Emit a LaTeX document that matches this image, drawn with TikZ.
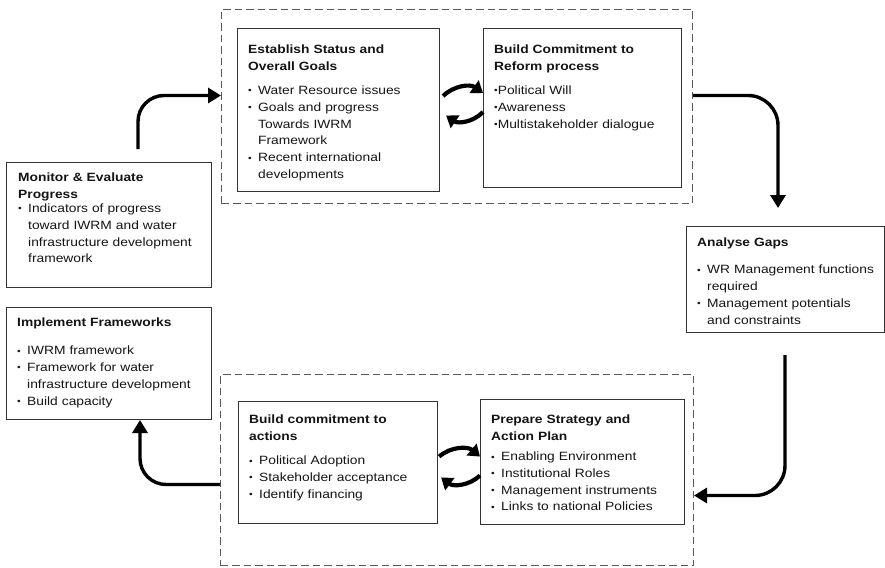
\documentclass[tikz,border=0pt]{standalone}
\usepackage{fontspec}
\setmainfont{Liberation Sans}[FakeStretch=1.15]
\usetikzlibrary{arrows.meta}

% bullet line and its indented continuation lines
\newcommand\bul[1]{\par\noindent
  \makebox[10pt][l]{\raisebox{0.5pt}{\fontsize{9}{9}\selectfont\textbullet}}#1\par}
\newcommand\cont[1]{\par\noindent\hspace*{10pt}#1\par}
% tight bullet (no gap)
\newcommand\tbul[1]{\par\noindent{\fontsize{9}{9}\selectfont\raisebox{0.5pt}{\textbullet}}#1\par}

\tikzset{
  box/.style={draw=black!80, line width=1.1pt, inner sep=0pt, anchor=north west},
  txt/.style={anchor=north west, inner sep=0pt, align=left, text width=#1,
              font=\fontsize{12}{16.8}\selectfont, text=black!92},
  group/.style={draw=black!65, line width=1pt, dash pattern=on 7.5pt off 4pt,
                inner sep=0pt, anchor=north west},
  flow/.style={line width=3.4pt, draw=black, -{Triangle[length=13pt,width=15pt]}},
  swap/.style={line width=4.2pt, draw=black, -{Triangle[length=11pt,width=15pt]}},
}

\begin{document}
\begin{tikzpicture}[x=1pt,y=-1pt]
\useasboundingbox (0,0) rectangle (885,567);

% dashed groups
\node[group, minimum width=471pt, minimum height=194pt] (topgrp) at (221,9) {};
\node[group, minimum width=473pt, minimum height=191pt] (botgrp) at (220,374) {};

% boxes
\node[box, minimum width=202pt, minimum height=163pt] (estab) at (237,28) {};
\node[box, minimum width=198pt, minimum height=159pt] (commit) at (483,28) {};
\node[box, minimum width=205pt, minimum height=125pt] (monitor) at (6,162) {};
\node[box, minimum width=205pt, minimum height=112pt] (impl) at (6,307) {};
\node[box, minimum width=198pt, minimum height=106pt] (gaps) at (686,226) {};
\node[box, minimum width=199pt, minimum height=122pt] (actions) at (238,401) {};
\node[box, minimum width=204pt, minimum height=125pt] (strategy) at (480,399) {};

% box texts
\node[txt=195pt] (estabT) at (248,44.5) {\textbf{Establish Status and\\Overall Goals}\par\vspace{7.5pt}
  \bul{Water Resource issues}
  \bul{Goals and progress}
  \cont{Towards IWRM}
  \cont{Framework}
  \bul{Recent international}
  \cont{developments}};

\node[txt=190pt] (commitT) at (494,44.5) {\textbf{Build Commitment to\\Reform process}\par\vspace{7.5pt}
  \tbul{Political Will}
  \tbul{Awareness}
  \tbul{Multistakeholder dialogue}};

\node[txt=200pt] (monitorT) at (18,172.5) {\textbf{Monitor \& Evaluate\\Progress}\par\vspace{-2.5pt}
  \bul{Indicators of progress}
  \cont{toward IWRM and water}
  \cont{infrastructure development}
  \cont{framework}};

\node[txt=200pt] (implT) at (17,318) {\textbf{Implement Frameworks}\par\vspace{11pt}
  \bul{IWRM framework}
  \bul{Framework for water}
  \cont{infrastructure development}
  \bul{Build capacity}};

\node[txt=200pt] (gapsT) at (697,238) {\textbf{Analyse Gaps}\par\vspace{10pt}
  \bul{WR Management functions}
  \cont{required}
  \bul{Management potentials}
  \cont{and constraints}};

\node[txt=195pt] (actionsT) at (249,415) {\textbf{Build commitment to\\actions}\par\vspace{7pt}
  \bul{Political Adoption}
  \bul{Stakeholder acceptance}
  \bul{Identify financing}};

\node[txt=195pt] (strategyT) at (491,415) {\textbf{Prepare Strategy and\\Action Plan}\par\vspace{3pt}
  \bul{Enabling Environment}
  \bul{Institutional Roles}
  \bul{Management instruments}
  \bul{Links to national Policies}};

% free ends of the main cycle arrows
\coordinate (mOut) at (138,149);
\coordinate (gIn) at (778,208);
\coordinate (gOut) at (785,355);
\coordinate (iIn) at (140,420);

% main cycle
\draw[flow, rounded corners=26pt] (mOut) |- ([yshift=11pt]topgrp.west);
\draw[flow, rounded corners=30pt] ([yshift=11pt]topgrp.east) -| (gIn);
\draw[flow, rounded corners=30pt] (gOut) |- ([yshift=-25.5pt]botgrp.east);
\draw[flow, rounded corners=26pt] ([yshift=-14.5pt]botgrp.west) -| (iIn);

% exchange arrows, upper pair
\draw[swap] ([xshift=3pt,yshift=14pt]estab.east) to[bend left=40] ([yshift=15pt]commit.west);
\draw[swap] ([yshift=-4pt]commit.west) to[bend left=40] ([xshift=6pt,yshift=-5.5pt]estab.east);

% exchange arrows, lower pair
\draw[swap] ([xshift=1pt,yshift=6pt]actions.east) to[bend left=40] ([yshift=5.5pt]strategy.west);
\draw[swap] ([yshift=-13.5pt]strategy.west) to[bend left=40] ([xshift=3pt,yshift=-15pt]actions.east);
\end{tikzpicture}
\end{document}
